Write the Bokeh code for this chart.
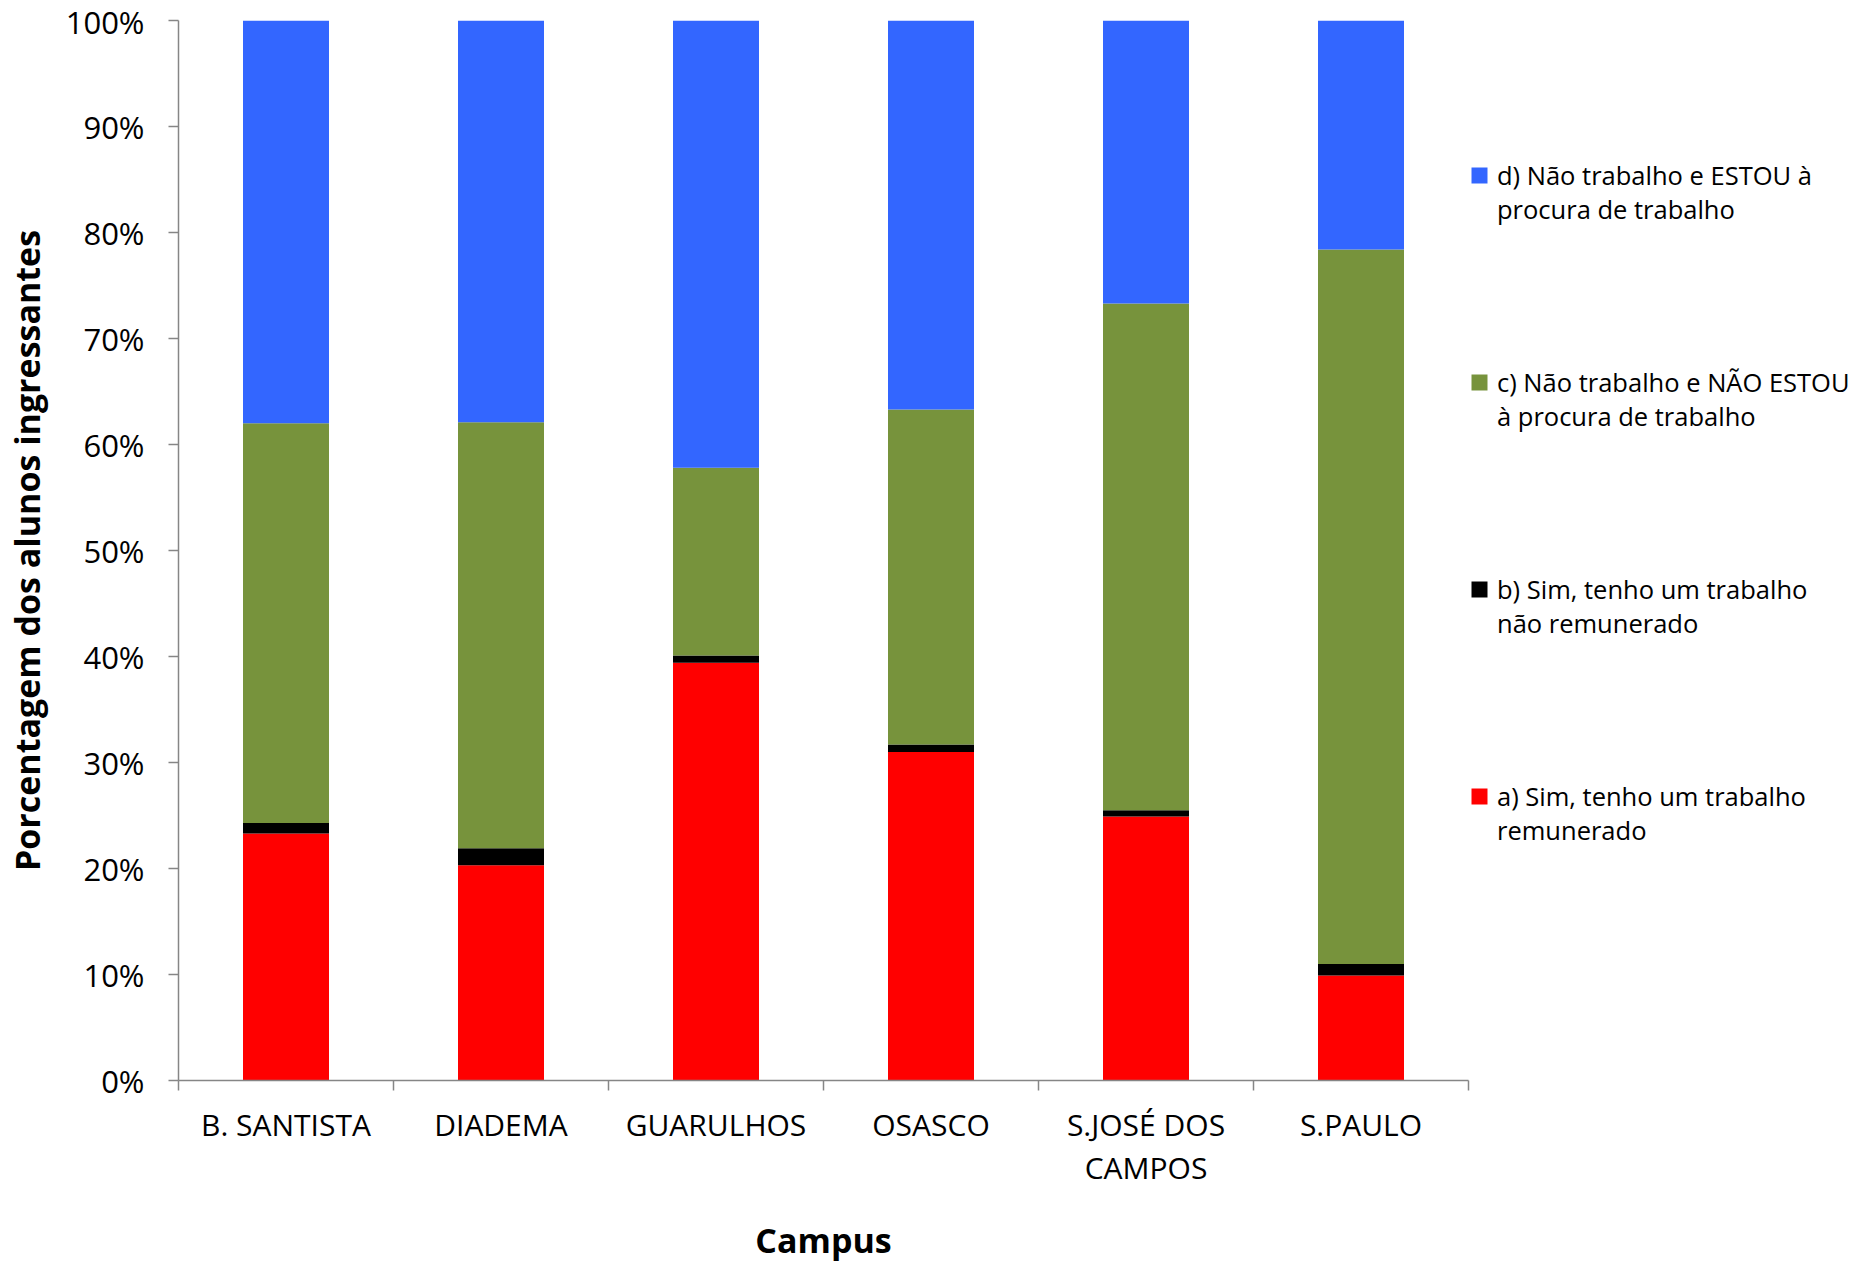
from bokeh.plotting import figure
from bokeh.models import (Range1d, FixedTicker, Legend, LegendItem, ColumnDataSource, LinearAxis)
from bokeh.embed import file_html
from bokeh.resources import INLINE

campi = ["B. SANTISTA", "DIADEMA", "GUARULHOS", "OSASCO", "S.JOSÉ DOS\nCAMPOS", "S.PAULO"]
a_remunerado = [23.3, 20.3, 39.4, 31.0, 24.9, 9.9]
b_nao_remunerado = [1.0, 1.6, 0.7, 0.7, 0.6, 1.1]
c_nao_procura = [37.7, 40.2, 17.7, 31.6, 47.8, 67.4]
d_procura = [38.0, 37.9, 42.2, 36.7, 26.7, 21.6]
y_ticks = [0, 10, 20, 30, 40, 50, 60, 70, 80, 90, 100]

labels = {
    "a": "a) Sim, tenho um trabalho\nremunerado",
    "b": "b) Sim, tenho um trabalho\nnão remunerado",
    "c": "c) Não trabalho e NÃO ESTOU\nà procura de trabalho",
    "d": "d) Não trabalho e ESTOU à\nprocura de trabalho",
}
colors = {"a": "#FF0000", "b": "#000000", "c": "#77933C", "d": "#3366FF"}

FONT = "Open Sans"
xpos = [i + 0.5 for i in range(len(campi))]
src = ColumnDataSource(dict(x=xpos, a=a_remunerado, b=b_nao_remunerado,
                            c=c_nao_procura, d=d_procura))

p = figure(frame_width=1290, frame_height=1060, output_backend="svg", toolbar_location=None,
           x_range=Range1d(0, len(campi)), y_range=Range1d(0, 100),
           min_border_left=100, min_border_right=0, min_border_top=20,
           min_border_bottom=0, x_axis_location=None, y_axis_location=None)
p.outline_line_color = None
p.grid.visible = False
p.background_fill_color = "white"
p.border_fill_color = "white"

rs = p.vbar_stack(["a", "b", "c", "d"], x="x", width=0.4, source=src,
                  color=[colors[k] for k in "abcd"], line_color=None)

# y axis
yax = LinearAxis(ticker=FixedTicker(ticks=y_ticks),
                 major_label_overrides={v: f"{v}%" for v in y_ticks})
yax.axis_label = "Porcentagem dos alunos ingressantes"
yax.axis_label_text_font = FONT
yax.axis_label_text_font_style = "bold"
yax.axis_label_text_font_size = "34px"
yax.axis_label_text_color = "black"
yax.axis_label_standoff = 13
yax.major_label_text_font = FONT
yax.major_label_text_font_size = "31px"
yax.major_label_text_color = "black"
yax.major_label_standoff = 24
yax.axis_line_color = "#868686"
yax.axis_line_width = 1.5
yax.major_tick_line_color = "#868686"
yax.major_tick_line_width = 1.5
yax.major_tick_out = 10
yax.major_tick_in = 0
yax.minor_tick_line_color = None
p.add_layout(yax, "left")

# x axis: labels at centres, ticks at boundaries
xax = LinearAxis(ticker=FixedTicker(ticks=xpos, minor_ticks=list(range(len(campi) + 1))),
                 major_label_overrides={x: c for x, c in zip(xpos, campi)})
xax.axis_label = "Campus"
xax.axis_label_text_font = FONT
xax.axis_label_text_font_style = "bold"
xax.axis_label_text_font_size = "34px"
xax.axis_label_text_color = "black"
xax.axis_label_standoff = 26
xax.major_label_text_font = FONT
xax.major_label_text_font_size = "30px"
xax.major_label_text_color = "black"
xax.major_label_text_line_height = 1.07
xax.major_label_standoff = 13
xax.axis_line_color = "#868686"
xax.axis_line_width = 1.5
xax.major_tick_line_color = None
xax.major_tick_out = 10
xax.major_tick_in = 0
xax.minor_tick_line_color = "#868686"
xax.minor_tick_line_width = 1.5
xax.minor_tick_out = 10
xax.minor_tick_in = 0
p.add_layout(xax, "below")

# a blank first line puts each swatch level with the first line of its text
items = [LegendItem(label=" \n" + labels[k], renderers=[r]) for k, r in zip("dcba", rs[::-1])]
legend = Legend(items=items, location=(1, 233), orientation="vertical",
                label_text_font=FONT, label_text_font_size="25.5px", label_text_color="black",
                label_text_line_height=1.33,
                glyph_width=20, glyph_height=20, label_standoff=8,
                spacing=105, padding=0, margin=0,
                border_line_color=None, background_fill_alpha=0)
p.add_layout(legend, "right")

open("out.html", "w").write(file_html(p, INLINE))
